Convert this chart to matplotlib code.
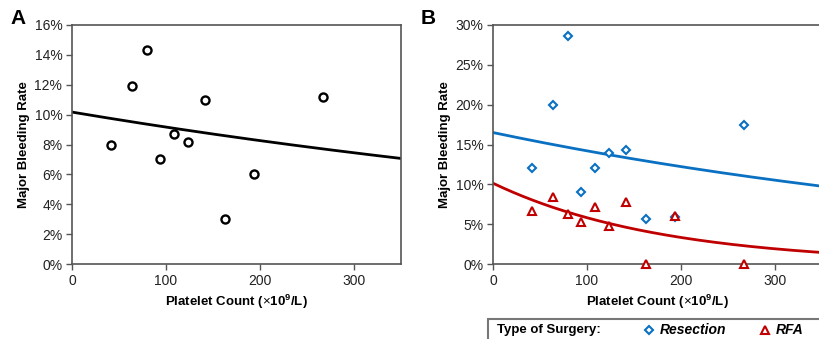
import numpy as np
import matplotlib
matplotlib.use("Agg")
import matplotlib.pyplot as plt
from matplotlib.lines import Line2D
from matplotlib.patches import Rectangle
from matplotlib.ticker import FuncFormatter

plt.rcParams['font.family'] = ['Liberation Sans', 'DejaVu Sans']
plt.rcParams['mathtext.fontset'] = 'custom'
plt.rcParams['mathtext.rm'] = 'Liberation Sans'
plt.rcParams['mathtext.bf'] = 'Liberation Sans:bold'

# ---- data ----
platelets = [41, 64, 80, 94, 109, 123, 142, 163, 194, 267]
overall_rate = [8.0, 11.9, 14.3, 7.0, 8.7, 8.2, 11.0, 3.0, 6.0, 11.2]
resection_rate = [12.0, 20.0, 28.6, 9.1, 12.1, 13.9, 14.3, 5.7, 5.9, 17.5]
rfa_rate = [6.6, 8.4, 6.3, 5.3, 7.1, 4.8, 7.8, 0.0, 6.0, 0.0]

# fitted curves: rate = intercept * exp(slope * platelets)
overall_fit = (10.17, -0.00104)
resection_fit = (16.5, -0.0015)
rfa_fit = (10.14, -0.00557)

x_ticks = [0, 100, 200, 300]
ya_ticks = [0, 2, 4, 6, 8, 10, 12, 14, 16]
yb_ticks = [0, 5, 10, 15, 20, 25, 30]

BLUE = '#0A70C2'
RED = '#C00000'
SPINE = '#555555'

W, H = 819, 339
fig = plt.figure(figsize=(W / 100, H / 100), dpi=100)

axA = fig.add_axes([72 / W, 1 - 264 / H, (401 - 72) / W, (264 - 25) / H])
axB = fig.add_axes([493 / W, 1 - 264 / H, (822 - 493) / W, (264 - 25) / H])

xs = np.linspace(0, 350, 200)
pct = FuncFormatter(lambda v, p: f'{v:.0f}%')

def style(ax, yticks, ylim):
    ax.set_xlim(0, 350)
    ax.set_ylim(*ylim)
    ax.set_xticks(x_ticks)
    ax.set_yticks(yticks)
    ax.yaxis.set_major_formatter(pct)
    ax.tick_params(direction='out', length=4, width=1, color=SPINE,
                   labelsize=10, pad=3, labelcolor='#222222')
    for s in ax.spines.values():
        s.set_color(SPINE)
        s.set_linewidth(1.2)
    ax.set_xlabel(r'Platelet Count ($\times$10$^{\mathbf{9}}$/L)',
                  fontsize=9.5, fontweight='bold', labelpad=4)
    ax.set_ylabel('Major Bleeding Rate', fontsize=9.5, fontweight='bold', labelpad=3)

# Panel A
a0, k0 = overall_fit
axA.plot(xs, a0 * np.exp(k0 * xs), color='black', lw=2.0, zorder=2)
axA.plot(platelets, overall_rate, 'o', ms=5.8, mfc='white', mec='black', mew=1.7, zorder=3,
         clip_on=False)
style(axA, ya_ticks, (0, 16))

# Panel B
a1, k1 = resection_fit
a2, k2 = rfa_fit
axB.plot(xs, a1 * np.exp(k1 * xs), color=BLUE, lw=2.0, zorder=2)
axB.plot(xs, a2 * np.exp(k2 * xs), color=RED, lw=2.0, zorder=2)
axB.plot(platelets, resection_rate, 'D', ms=4.5, mfc='white', mec=BLUE, mew=1.5, zorder=3,
         clip_on=False)
axB.plot(platelets, rfa_rate, '^', ms=6, mfc='white', mec=RED, mew=1.5, zorder=3,
         clip_on=False)
style(axB, yb_ticks, (0, 30))

# Panel letters
fig.text(10 / W, 1 - 19 / H, 'A', fontsize=15, fontweight='bold', va='center', ha='left')
fig.text(421 / W, 1 - 19 / H, 'B', fontsize=15, fontweight='bold', va='center', ha='left')

# Legend box
fig.patches.append(Rectangle((488 / W, -0.05), 0.5, 1 - 319 / H + 0.05,
                             transform=fig.transFigure, fill=False,
                             edgecolor='#777777', lw=1.5))
ly = 1 - 330 / H
fig.text(497 / W, ly, 'Type of Surgery:', fontsize=9.5, fontweight='bold', va='center')
fig.add_artist(Line2D([649 / W], [ly], marker='D', ms=4.2, mfc='white', mec=BLUE,
                      mew=1.5, transform=fig.transFigure))
fig.text(660 / W, ly, 'Resection', fontsize=10, fontweight='bold', style='italic', va='center')
fig.add_artist(Line2D([765 / W], [ly], marker='^', ms=5.5, mfc='white', mec=RED,
                      mew=1.5, transform=fig.transFigure))
fig.text(776 / W, ly, 'RFA', fontsize=10, fontweight='bold', style='italic', va='center')

fig.savefig('out.png', dpi=100)
